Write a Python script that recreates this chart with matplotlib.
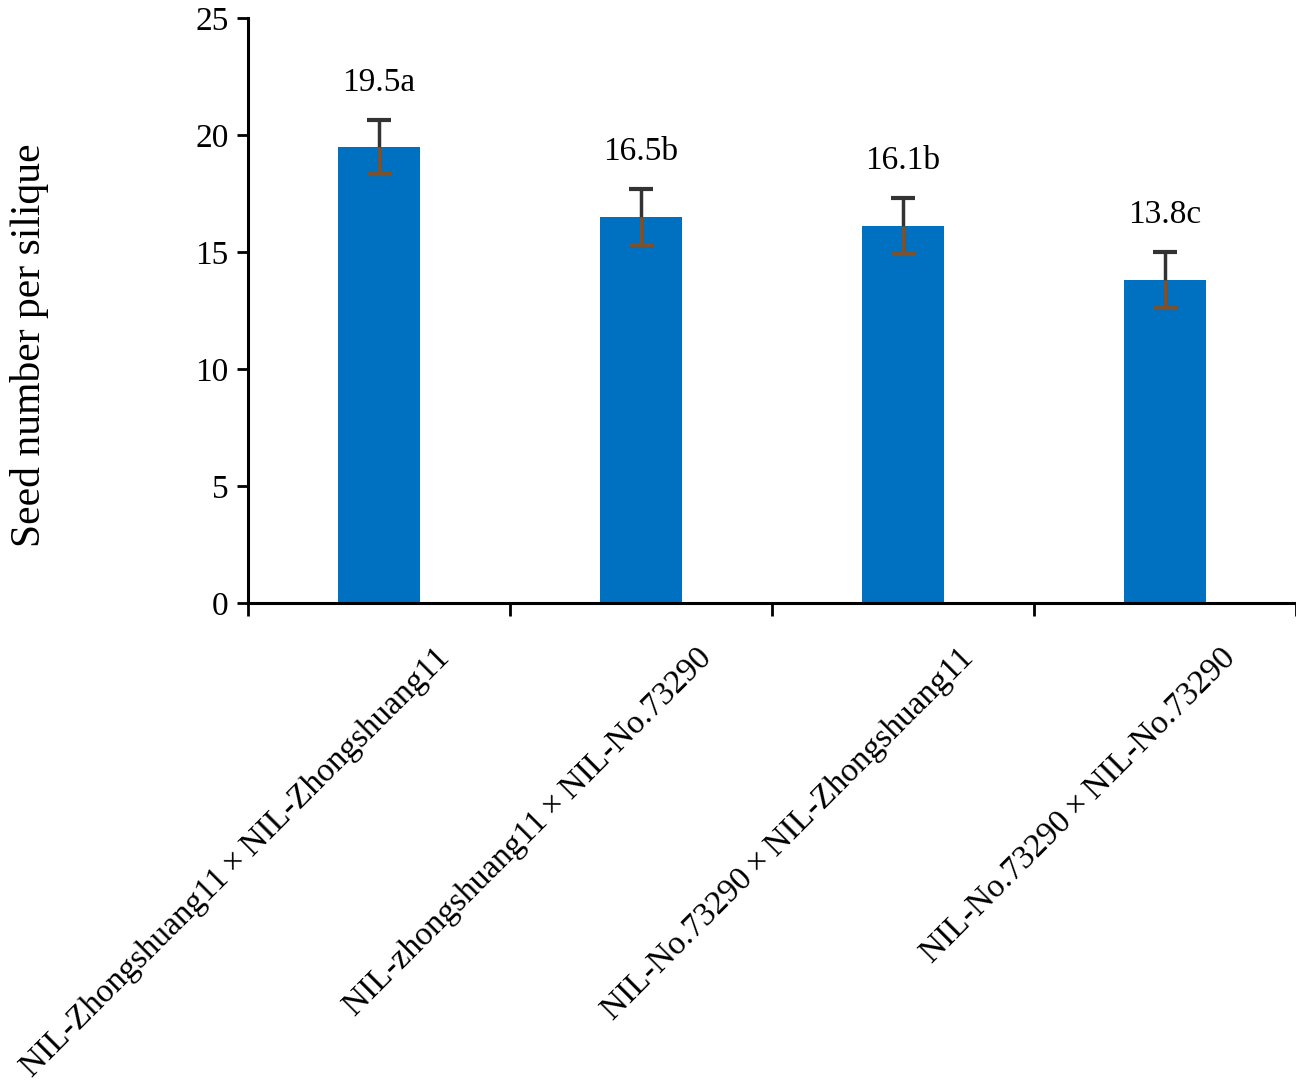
import numpy as np
import matplotlib
matplotlib.use("Agg")
import matplotlib.pyplot as plt
import matplotlib.transforms as mtransforms

plt.rcParams['font.family'] = ['Liberation Serif', 'DejaVu Serif']

crosses = ["NIL-Zhongshuang11", "NIL-zhongshuang11", "NIL-No.73290", "NIL-No.73290"]
partners = ["NIL-Zhongshuang11", "NIL-No.73290", "NIL-Zhongshuang11", "NIL-No.73290"]
seed_num = [19.5, 16.5, 16.1, 13.8]
seed_err = [1.15, 1.2, 1.2, 1.2]
letters = ["a", "b", "b", "c"]

fig = plt.figure(figsize=(12.96, 10.92), dpi=100)
ax = fig.add_axes([0.1914, 0.4478, 0.8086, 0.5357])

x = np.arange(len(seed_num))
vals = np.array(seed_num)
err = np.array(seed_err)
ax.bar(x, vals, width=0.31, color="#0070C0", zorder=2)

# upper half of error bar dark grey, lower half brown (like the original)
ax.errorbar(x, vals, yerr=[np.zeros_like(err), err], fmt="none", ecolor="#333333",
            elinewidth=2.5, capsize=0, zorder=3)
ax.plot(x, vals + err, ls="none", marker="_", ms=17, mew=3, color="#333333", zorder=3)
ax.vlines(x, vals - err, vals, color="#7A5230", lw=2.5, zorder=3)
ax.plot(x, vals - err, ls="none", marker="_", ms=17, mew=3, color="#7A5230", zorder=3)

for xi, v, e, l in zip(x, vals, err, letters):
    ax.annotate(f"{v:.1f}{l}", (xi, v + e), xytext=(0, 27), textcoords="offset points",
                ha="center", va="center", fontsize=24)

ax.set_xlim(-0.5, 3.5)
ax.set_ylim(0, 25)
ax.set_yticks(range(0, 26, 5))
ax.set_xticks(np.arange(-0.5, 4, 1))
ax.set_xticklabels([])
ax.tick_params(axis="y", direction="out", length=8, width=2, labelsize=24, pad=6)
ax.tick_params(axis="x", direction="out", length=9, width=2)
for s in ["top", "right"]:
    ax.spines[s].set_visible(False)
for s in ["left", "bottom"]:
    ax.spines[s].set_linewidth(2.2)

ax.set_ylabel("Seed number per silique", fontsize=30)
ax.yaxis.set_label_coords(-0.19, 0.44)

trans = mtransforms.blended_transform_factory(ax.transData, ax.transAxes)
trans = mtransforms.offset_copy(trans, fig=fig, x=66, y=-50, units="dots")
for xi, a, b in zip(x, crosses, partners):
    ax.text(xi, 0, a + "\u2009\u00d7\u2009" + b, transform=trans, rotation=45,
            rotation_mode="anchor", ha="right", va="center", fontsize=24)

fig.savefig("out.png", dpi=100)
